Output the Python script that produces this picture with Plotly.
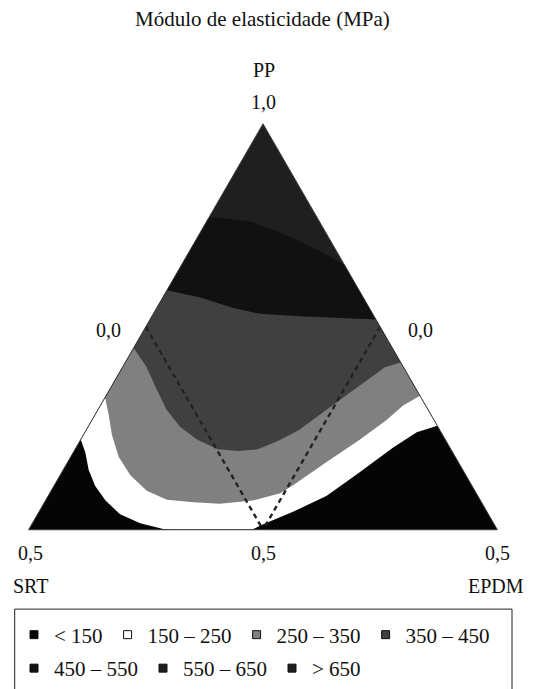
import plotly.graph_objects as go

# ---- data: boundaries between modulus classes ----
# Each boundary: SRT and EPDM mass fractions (PP = 1 - SRT - EPDM)
# B1: between top cap and next band
b1_srt  = [0.116, 0.107, 0.091, 0.074, 0.060, 0.046, 0.033, 0.020, 0.015, 0.000]
b1_epdm = [0.000, 0.008, 0.027, 0.046, 0.068, 0.089, 0.112, 0.135, 0.144, 0.174]
# B2: between "450-550" and "350-450"
b2_srt  = [0.205, 0.174, 0.145, 0.120, 0.079, 0.041, 0.000]
b2_epdm = [0.000, 0.040, 0.082, 0.114, 0.158, 0.198, 0.241]
# B3: between "350-450" and "250-350"
b3_srt  = [0.276, 0.274, 0.277, 0.279, 0.275, 0.265, 0.249, 0.228, 0.206, 0.178,
           0.150, 0.113, 0.083, 0.047, 0.020, 0.000]
b3_epdm = [0.000, 0.025, 0.050, 0.073, 0.098, 0.124, 0.152, 0.175, 0.195, 0.212,
           0.227, 0.242, 0.254, 0.269, 0.280, 0.294]
# B4: between "250-350" and "150-250"
b4_srt  = [0.337, 0.343, 0.353, 0.359, 0.358, 0.350, 0.334, 0.307, 0.280, 0.243,
           0.209, 0.190, 0.141, 0.091, 0.051, 0.024, 0.000]
b4_epdm = [0.000, 0.013, 0.031, 0.051, 0.075, 0.102, 0.129, 0.159, 0.188, 0.221,
           0.246, 0.255, 0.276, 0.298, 0.314, 0.323, 0.335]
# B5 (left lobe): between "150-250" and "<150" near SRT corner
b5l_srt  = [0.389, 0.392, 0.399, 0.402, 0.400, 0.393, 0.377, 0.356, 0.343]
b5l_epdm = [0.000, 0.013, 0.027, 0.044, 0.064, 0.088, 0.115, 0.143, 0.157]
# B5 (right lobe): between "150-250" and "<150" near EPDM corner
b5r_srt  = [0.262, 0.248, 0.207, 0.161, 0.111, 0.061, 0.026, 0.000]
b5r_epdm = [0.238, 0.246, 0.271, 0.297, 0.318, 0.338, 0.354, 0.372]

# corners of the plotted (pseudo-)ternary: PP from 0.5 to 1.0
corner_top   = (0.0, 0.0)   # (SRT, EPDM)
corner_left  = (0.5, 0.0)
corner_right = (0.0, 0.5)

# dashed guide lines (SRT = 0.25 and EPDM = 0.25)
dash1_srt, dash1_epdm = [0.25, 0.25], [0.00, 0.25]
dash2_srt, dash2_epdm = [0.00, 0.25], [0.25, 0.25]

classes = ["&lt; 150", "150 – 250", "250 – 350", "350 – 450",
           "450 – 550", "550 – 650", "&gt; 650"]
class_colors = ["#050505", "#ffffff", "#808080", "#404040",
                "#111111", "#1c1c1c", "#1f1f1f"]

FONT = "'Liberation Serif', 'Times New Roman', Times, 'DejaVu Serif', serif"
W, H = 533, 689


def tern(srt, epdm):
    srt = list(srt)
    epdm = list(epdm)
    pp = [round(1 - s - e, 4) for s, e in zip(srt, epdm)]
    return dict(a=pp, b=srt, c=epdm)


def below(srt, epdm):
    # boundary (left edge -> right edge) closed through the two lower corners
    s = list(srt) + [corner_right[0], corner_left[0]]
    e = list(epdm) + [corner_right[1], corner_left[1]]
    return s, e


fig = go.Figure()

fills = []
fills.append(([corner_top[0], corner_left[0], corner_right[0]],
              [corner_top[1], corner_left[1], corner_right[1]], "#1f1f1f"))
fills.append((*below(b1_srt, b1_epdm), "#111111"))
fills.append((*below(b2_srt, b2_epdm), "#404040"))
fills.append((*below(b3_srt, b3_epdm), "#808080"))
fills.append((*below(b4_srt, b4_epdm), "#ffffff"))
fills.append((b5l_srt + [corner_left[0]], b5l_epdm + [corner_left[1]], "#050505"))
fills.append((b5r_srt + [corner_right[0]], b5r_epdm + [corner_right[1]], "#050505"))

for s, e, col in fills:
    fig.add_trace(go.Scatterternary(
        **tern(s, e), mode="lines", fill="toself", fillcolor=col,
        line=dict(width=0, color=col), showlegend=False, hoverinfo="skip"))

for s, e in [(dash1_srt, dash1_epdm), (dash2_srt, dash2_epdm)]:
    fig.add_trace(go.Scatterternary(
        **tern(s, e), mode="lines",
        line=dict(color="#222222", width=2.4, dash="5px,4px"),
        showlegend=False, hoverinfo="skip"))

for i, (name, col) in enumerate(zip(classes, class_colors)):
    fig.add_trace(go.Scatterternary(
        a=[None], b=[None], c=[None], mode="markers", name=name,
        legend="legend" if i < 4 else "legend2",
        marker=dict(symbol="square", size=8, color=col,
                    line=dict(color="#111111", width=1)),
        showlegend=True))

axis_common = dict(showticklabels=False, ticks="", showgrid=False,
                   linecolor="#333333", linewidth=1, title=dict(text=""))

leg_common = dict(orientation="h", xanchor="left", yanchor="middle",
                  borderwidth=0, bgcolor="rgba(0,0,0,0)", itemwidth=30,
                  font=dict(family=FONT, size=21, color="#111111"))

fig.update_layout(
    width=W, height=H,
    margin=dict(l=0, r=0, t=0, b=0),
    paper_bgcolor="white",
    font=dict(family=FONT, size=20, color="#111111"),
    ternary=dict(
        sum=1,
        domain=dict(x=[28 / W, 498 / W], y=[(H - 530.5) / H, (H - 124) / H]),
        bgcolor="white",
        aaxis=dict(min=0.5, **axis_common),
        baxis=dict(min=0.0, **axis_common),
        caxis=dict(min=0.0, **axis_common),
    ),
    showlegend=True,
    legend=dict(x=14 / W, y=1 - 635 / H, **leg_common),
    legend2=dict(x=14 / W, y=1 - 669 / H, **leg_common),
    shapes=[dict(type="rect", xref="paper", yref="paper",
                 x0=14.7 / W, x1=512 / W, y0=1 - 610 / H, y1=1 - 700 / H,
                 line=dict(color="#222222", width=1), fillcolor="rgba(0,0,0,0)",
                 layer="below")],
)


def ann(text, px, py, size=20):
    fig.add_annotation(text=text, x=px / W, y=1 - py / H, xref="paper",
                       yref="paper", showarrow=False, xanchor="center",
                       yanchor="middle", font=dict(family=FONT, size=size,
                                                   color="#111111"))


ann("Módulo de elasticidade (MPa)", 262, 19, size=21)
ann("PP", 264, 70)
ann("1,0", 263, 102)
ann("0,0", 108, 330)
ann("0,0", 420, 330)
ann("0,5", 30, 554)
ann("0,5", 263, 554)
ann("0,5", 497, 554)
ann("SRT", 30, 587)
ann("EPDM", 496, 587)

fig.write_html("out.html",
               config={"displayModeBar": False, "staticPlot": True},
               post_script="document.body.style.margin='0';"
                           "document.body.style.overflow='hidden';")
